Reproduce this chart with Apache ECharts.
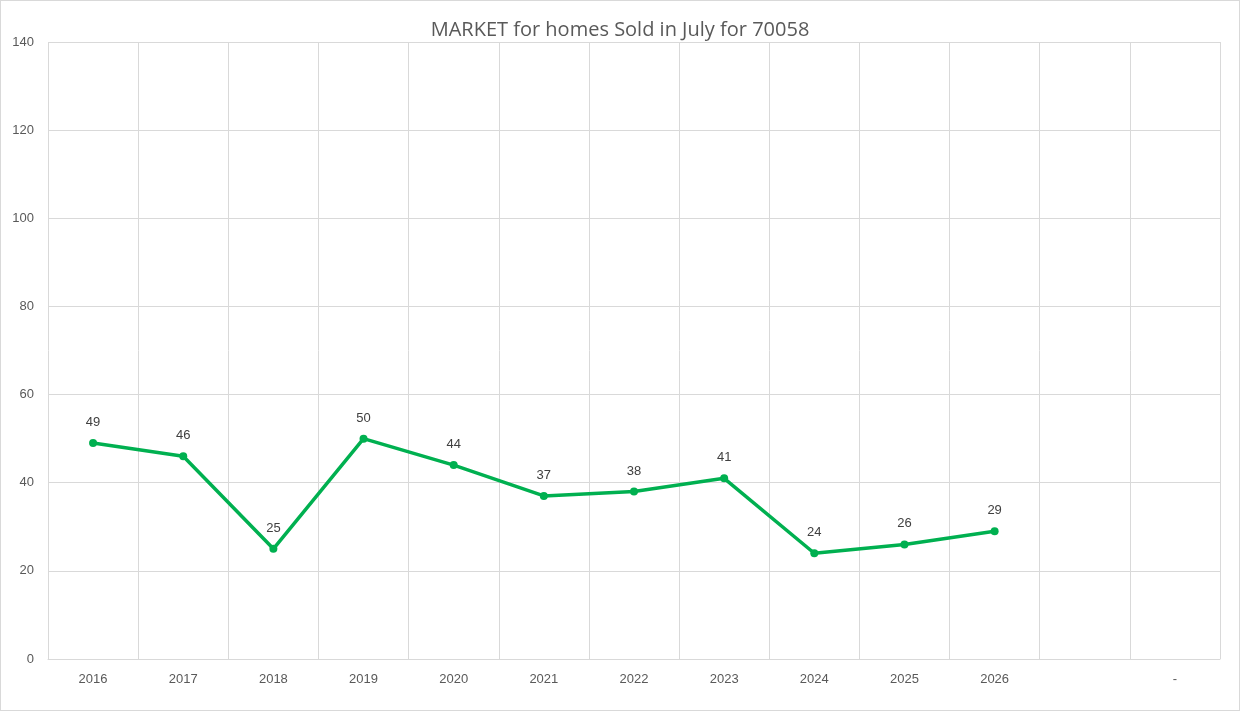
<!DOCTYPE html>
<html>
<head>
<meta charset="utf-8">
<script src="https://cdn.jsdelivr.net/npm/echarts@6/dist/echarts.min.js"></script>
<style>
  html, body { margin: 0; padding: 0; background: #fff; }
  #chart { width: 1238px; height: 709px; border: 1px solid #d9d9d9; }
</style>
</head>
<body>
<div id="chart"></div>
<script>
// homes sold in July, by year
var years = ["2016", "2017", "2018", "2019", "2020", "2021", "2022", "2023", "2024", "2025", "2026", "", "-"];
var sold = [49, 46, 25, 50, 44, 37, 38, 41, 24, 26, 29, null, null];

var myChart = echarts.init(document.getElementById("chart"));
myChart.setOption({
  animation: false,
  title: {
    text: "MARKET for homes Sold in July for 70058",
    left: "center",
    top: 14,
    textStyle: { fontFamily: "Open Sans", fontSize: 20, fontWeight: "normal", color: "#595959" },
  },
  grid: { left: 47, right: 19, top: 41, bottom: 51 },
  xAxis: {
    type: "category",
    data: years,
    boundaryGap: true,
    axisLine: { lineStyle: { color: "#d9d9d9" } },
    axisTick: { show: false },
    axisLabel: { color: "#595959", fontSize: 13, margin: 14, interval: 0 },
    splitLine: { show: true, interval: 0, lineStyle: { color: "#d9d9d9" } },
  },
  yAxis: {
    type: "value",
    min: 0,
    max: 140,
    interval: 20,
    axisLine: { show: false },
    axisLabel: { color: "#595959", fontSize: 13, margin: 14 },
    splitLine: { lineStyle: { color: "#d9d9d9" } },
  },
  series: [
    {
      type: "line",
      data: sold,
      symbol: "circle",
      symbolSize: 8,
      lineStyle: { color: "#00b050", width: 3.5 },
      itemStyle: { color: "#00b050" },
      label: { show: true, position: "top", distance: 10, color: "#404040", fontSize: 13 },
    },
  ],
});
</script>
</body>
</html>
